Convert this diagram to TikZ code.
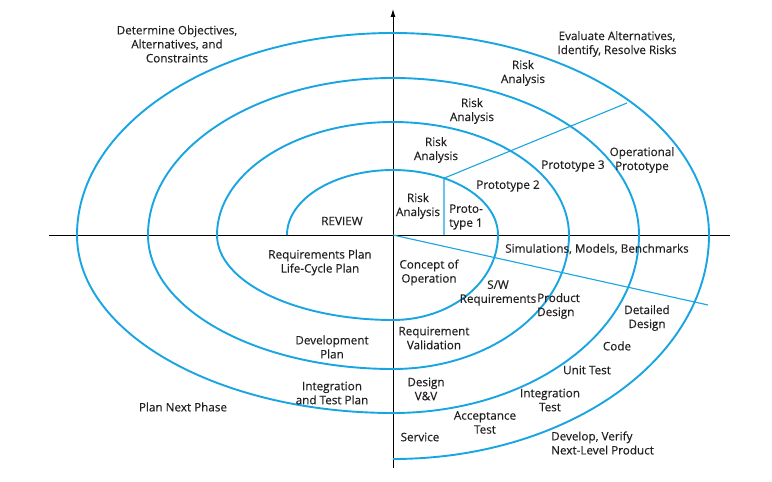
\documentclass[tikz,border=0pt]{standalone}
\usepackage{fontspec}
\setmainfont{Open Sans}
\newfontfamily\lblfont{Open Sans}[FakeBold=0.3]
\usetikzlibrary{arrows.meta}
\definecolor{spiralblue}{RGB}{24,165,226}
\definecolor{inktext}{RGB}{35,31,32}
\begin{document}
\begin{tikzpicture}[x=1pt,y=1pt,
  spiral/.style={draw=spiralblue,line width=1.9pt},
  radial/.style={draw=spiralblue,line width=1.1pt},
  axis/.style={draw=black,line width=0.9pt},
  lbl/.style={font=\lblfont\fontsize{11.7}{14}\selectfont,align=center,inner sep=0pt,text=inktext},
  lbll/.style={lbl,align=left,anchor=west}]
\useasboundingbox (-393,-247) rectangle (379,235);

% axes
\coordinate (xl) at (-344,0);
\coordinate (xr) at (337,0);
\coordinate (yb) at (0,-233);
\coordinate (yt) at (0,226);
\coordinate (o) at (0,0);
\draw[axis] (xl) -- (xr);
\draw[axis,-{Latex[length=8pt,width=5pt]}] (yb) -- (yt);

% the spiral, built from quarter ellipses around the origin
\draw[spiral] (-106,0)
  arc[start angle=180,end angle=90,x radius=106,y radius=65]
  arc[start angle=90,end angle=0,x radius=105,y radius=65]
  arc[start angle=0,end angle=-90,x radius=105,y radius=85]
  arc[start angle=270,end angle=180,x radius=176,y radius=85]
  arc[start angle=180,end angle=90,x radius=176,y radius=113]
  arc[start angle=90,end angle=0,x radius=176,y radius=113]
  arc[start angle=0,end angle=-90,x radius=176,y radius=134]
  arc[start angle=270,end angle=180,x radius=245,y radius=134]
  arc[start angle=180,end angle=90,x radius=245,y radius=157]
  arc[start angle=90,end angle=0,x radius=246,y radius=157]
  arc[start angle=0,end angle=-90,x radius=246,y radius=178]
  arc[start angle=270,end angle=180,x radius=316,y radius=178]
  arc[start angle=180,end angle=90,x radius=316,y radius=202]
  arc[start angle=90,end angle=0,x radius=316,y radius=202]
  arc[start angle=0,end angle=-90,x radius=316,y radius=224];

% prototype boundaries
\coordinate (p1) at (51,0);
\coordinate (p2) at (51,56.8);
\coordinate (p3) at (234,132);
\coordinate (p4) at (315,-70);
\draw[radial] (p1) -- (p2) -- (p3);
\draw[radial] (o) -- (p4);

% quadrant titles
\node[lbl] (q1) at (-216,191) {Determine Objectives,\\Alternatives, and\\Constraints};
\node[lbl] (q2) at (224,191) {Evaluate Alternatives,\\Identify, Resolve Risks};
\node[lbl] (q3) at (-210,-172) {Plan Next Phase};
\node[lbll] (q4) at (158,-208) {Develop, Verify\\Next-Level Product};

% risk analysis
\node[lbl] (ra4) at (130,162) {Risk\\Analysis};
\node[lbl] (ra3) at (79,124) {Risk\\Analysis};
\node[lbl] (ra2) at (43,85) {Risk\\Analysis};
\node[lbl] (ra1) at (25,29) {Risk\\Analysis};

% prototypes
\node[lbll] (pt1) at (56,18) {Proto-\\type 1};
\node[lbl] (pt2) at (115,49) {Prototype 2};
\node[lbl] (pt3) at (180,69) {Prototype 3};
\node[lbl] (pt4) at (249,75) {Operational\\Prototype};
\node[lbl] (sim) at (204,-14) {Simulations, Models, Benchmarks};

% planning
\node[lbl] (rev) at (-51,14) {REVIEW};
\node[lbl] (rp) at (-73,-27.5) {Requirements Plan\\Life-Cycle Plan};
\node[lbl] (dp) at (-61,-112) {Development\\Plan};
\node[lbl] (itp) at (-61,-158) {Integration\\and Test Plan};

% development
\node[lbl] (co) at (36,-37.5) {Concept of\\Operation};
\node[lbl] (sw) at (105,-58) {S/W\\Requirements};
\node[lbll] (pd) at (144,-71) {Product\\Design};
\node[lbl] (dd) at (254,-83) {Detailed\\Design};
\node[lbl] (code) at (224,-111) {Code};
\node[lbl] (ut) at (194,-135) {Unit Test};
\node[lbl] (it) at (157,-165) {Integration\\Test};
\node[lbl] (at) at (92,-187.5) {Acceptance\\Test};
\node[lbl] (svc) at (27,-202) {Service};
\node[lbl] (rv) at (41,-103) {Requirement\\Validation};
\node[lbl] (dv) at (33,-154) {Design\\V\&V};
\end{tikzpicture}
\end{document}
